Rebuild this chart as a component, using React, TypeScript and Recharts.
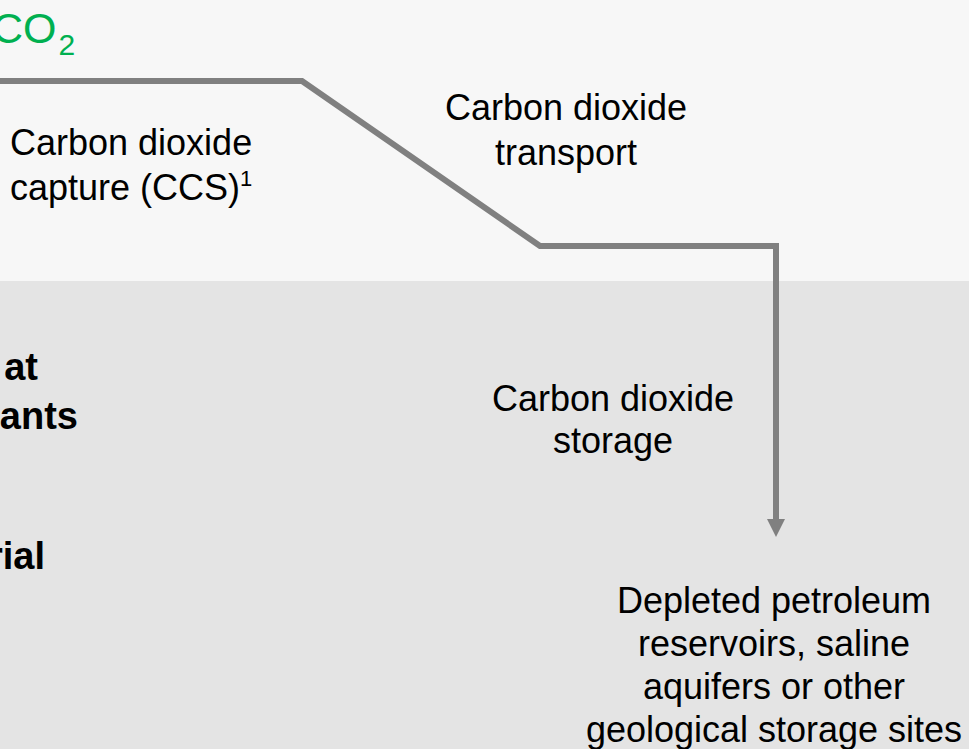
import {
  ComposedChart, Line, XAxis, YAxis, ReferenceArea, ReferenceDot,
} from 'recharts';

// Canvas is laid out in pixel units: x 0..969, y 0..749 (y grows downward).
const W = 969;
const H = 749;

// CO2 flow path: capture -> transport -> storage
const flowX = [0, 302, 540, 776, 776];
const flowY = [81, 81, 246, 246, 521];

// background bands (surface vs. underground)
const bandTop = [0, 281];
const bandBottom = [281, 749];
const bandFill = ['#f7f7f7', '#e4e4e4'];

// step labels
const labelX = [10, 566, 613, 774];
const labelY = [155, 120, 411, 613];
const labelAnchor = ['start', 'middle', 'middle', 'middle'];
const labelLines = [
  ['Carbon dioxide', 'capture (CCS)'],
  ['Carbon dioxide', 'transport'],
  ['Carbon dioxide', 'storage'],
  ['Depleted petroleum', 'reservoirs, saline', 'aquifers or other', 'geological storage sites'],
];
const labelGap = [45, 45, 42, 43];

// cut-off bold source labels on the left edge
const sourceText = ['at', 'ants', 'rial'];
const sourceX = [38, 78, 45];
const sourceY = [380, 429, 569];

const FONT = "'Liberation Sans', Arial, sans-serif";
const LINE_COLOR = '#808080';

const flowData = flowX.map((x, i) => ({ x, y: flowY[i] }));

function ArrowHead(props: any) {
  const { cx, cy, index } = props;
  if (index !== flowData.length - 1) return <g key={`d-${index}`} />;
  return (
    <path
      key={`d-${index}`}
      d={`M${cx - 9},${cy - 2} L${cx + 9},${cy - 2} L${cx},${cy + 16} Z`}
      fill={LINE_COLOR}
    />
  );
}

function MultiLineLabel({ cx, cy, lines, gap, anchor, sup }: any) {
  return (
    <text x={cx} y={cy} textAnchor={anchor} fontFamily={FONT} fontSize={36} fill="#000">
      {lines.map((t: string, i: number) => (
        <tspan key={i} x={cx} y={cy + i * gap}>
          {t}
          {sup && i === lines.length - 1 ? (
            <tspan fontSize={22} dy={-14}>1</tspan>
          ) : null}
        </tspan>
      ))}
    </text>
  );
}

export default function App() {
  return (
    <div style={{ position: 'absolute', left: 0, top: 0, width: W, height: H }}>
      <ComposedChart
        width={W}
        height={H}
        data={flowData}
        margin={{ top: 0, right: 0, bottom: 0, left: 0 }}
      >
        <XAxis dataKey="x" type="number" domain={[0, W]} allowDataOverflow hide />
        <YAxis type="number" domain={[0, H]} reversed allowDataOverflow hide />

        {bandTop.map((y1, i) => (
          <ReferenceArea
            key={`band-${i}`}
            x1={0}
            x2={W}
            y1={y1}
            y2={bandBottom[i]}
            fill={bandFill[i]}
            fillOpacity={1}
            stroke="none"
          />
        ))}

        <Line
          dataKey="y"
          type="linear"
          stroke={LINE_COLOR}
          strokeWidth={6}
          strokeLinejoin="miter"
          dot={ArrowHead}
          activeDot={false}
          isAnimationActive={false}
        />

        {/* CO2 heading */}
        <ReferenceDot
          x={0}
          y={43}
          r={0}
          ifOverflow="visible"
          shape={(p: any) => (
            <text x={p.cx - 8} y={p.cy} fontFamily={FONT} fontSize={43} fill="#00b050">
              CO
              <tspan fontSize={30} dx={2} dy={12}>2</tspan>
            </text>
          )}
        />

        {labelLines.map((lines, i) => (
          <ReferenceDot
            key={`lbl-${i}`}
            x={labelX[i]}
            y={labelY[i]}
            r={0}
            ifOverflow="visible"
            shape={(p: any) => (
              <MultiLineLabel
                cx={p.cx}
                cy={p.cy}
                lines={lines}
                gap={labelGap[i]}
                anchor={labelAnchor[i]}
                sup={i === 0}
              />
            )}
          />
        ))}

        {sourceText.map((t, i) => (
          <ReferenceDot
            key={`src-${i}`}
            x={sourceX[i]}
            y={sourceY[i]}
            r={0}
            ifOverflow="visible"
            shape={(p: any) => (
              <text
                x={p.cx}
                y={p.cy}
                textAnchor="end"
                fontFamily={FONT}
                fontSize={38}
                fontWeight="bold"
                fill="#000"
              >
                {t}
              </text>
            )}
          />
        ))}
      </ComposedChart>
    </div>
  );
}
